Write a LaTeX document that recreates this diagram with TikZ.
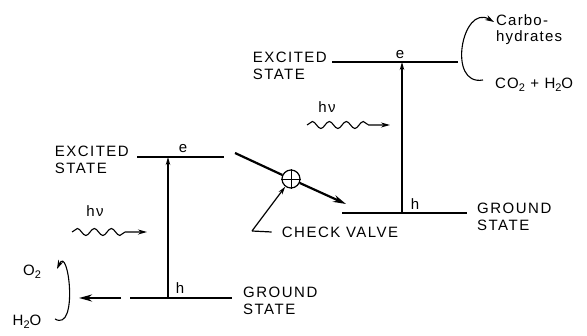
\documentclass[tikz,border=0pt]{standalone}
\usepackage{fontspec}
\setmainfont{Liberation Sans}
\newfontfamily\capsfont[LetterSpace=10]{Liberation Sans}
\newfontfamily\lowfont[LetterSpace=8]{Liberation Sans}
\usetikzlibrary{arrows.meta, positioning, decorations.pathmorphing}
\newcommand{\chemsub}[1]{\raisebox{-0.4ex}{\fontsize{11}{12}\selectfont #1}}
\tikzset{
  level/.style={line width=1.2pt},
  excite/.style={line width=1.2pt, -{Stealth[length=8pt,width=4.5pt]}},
  transfer/.style={line width=2.2pt, -{Stealth[length=13pt,width=7pt]}},
  photon/.style={
    line width=1.1pt, decorate,
    decoration={snake, amplitude=3.5pt, segment length=17pt, post length=18pt},
    -{Stealth[length=9pt,width=5pt]}
  },
  statelbl/.style={font=\capsfont\fontsize{15}{17}\selectfont, align=left, inner sep=1pt},
  small/.style={font=\lowfont\fontsize{15}{16}\selectfont, align=left, inner sep=1pt},
  cycle/.style={line width=1.1pt, -{Stealth[length=9pt,width=5.5pt]}},
  valve/.style={circle, draw, line width=1.2pt, fill=white, minimum size=18pt, inner sep=0pt},
}

\begin{document}
\begin{tikzpicture}[x=1pt, y=-1pt]
  \useasboundingbox (0,0) rectangle (587,336);

  % left system
  \coordinate (exA-w) at (137,157);
  \coordinate (exA-e) at (224,157);
  \coordinate (exA-x) at (168,157);
  \coordinate (gnA-w) at (130,298);
  \coordinate (gnA-e) at (232,298);
  \coordinate (gnA-x) at (168,298);
  \coordinate (outA-s) at (121,298);
  \coordinate (outA-t) at (79,298);
  \coordinate (phA-s) at (72,232);
  \coordinate (phA-t) at (147,232);
  \coordinate (cycA-s) at (55,319);
  \coordinate (cycA-t) at (57,269);

  \node (exA-lbl) [statelbl, left=7pt of exA-w, yshift=-3pt] {EXCITED\\STATE};
  \node (gnA-lbl) [statelbl, right=10pt of gnA-e, yshift=-3pt] {GROUND\\STATE};
  \node (eA)  [small] at (183,149) {e};
  \node (hA)  [small] at (180,288) {h};
  \node (hvA) [small] at (95,211) {hν};
  \node (o2)  [small] at (32,272) {O\chemsub{2}};
  \node (h2o) [small] at (27,322) {H\chemsub{2}O};

  \draw [level]    (exA-w) -- (exA-e);
  \draw [level]    (gnA-w) -- (gnA-e);
  \draw [excite]   (gnA-x) -- (exA-x);
  \draw [photon]   (phA-s) -- (phA-t);
  \draw [transfer] (outA-s) -- (outA-t);
  \draw [cycle]    (cycA-s) to[out=-30, in=65, looseness=1.4] (cycA-t);

  % check valve
  \coordinate (cvIn) at (235,153);
  \coordinate (cvOut) at (346,204);
  \coordinate (cvCorner) at (252,231);
  \node (cv) [valve] at (291,179) {};
  \node (cvLbl) [statelbl] at (340,232) {CHECK VALVE};

  \draw [line width=2.2pt] (cvIn) -- (cv);
  \draw [transfer] (cv) -- (cvOut);
  \draw [line width=0.9pt] (cv.north) -- (cv.south) (cv.west) -- (cv.east);
  \draw [level] ([xshift=-9pt]cvLbl.west) -- (cvCorner);
  \draw [excite] (cvCorner) -- (cv);

  % right system
  \coordinate (exB-w) at (332,62);
  \coordinate (exB-e) at (458,62);
  \coordinate (exB-x) at (402,62);
  \coordinate (gnB-w) at (342,213);
  \coordinate (gnB-e) at (467,213);
  \coordinate (gnB-x) at (402,213);
  \coordinate (phB-s) at (307,125);
  \coordinate (phB-t) at (390,125);
  \coordinate (cycB-s) at (483,80);
  \coordinate (cycB-t) at (494,22);

  \node (exB-lbl) [statelbl, left=4pt of exB-w, yshift=-4pt] {EXCITED\\STATE};
  \node (gnB-lbl) [statelbl, right=9pt of gnB-e, yshift=-4pt] {GROUND\\STATE};
  \node (eB)   [small] at (400,55) {e};
  \node (hB)   [small] at (415,204) {h};
  \node (hvB)  [small] at (327,107) {hν};
  \node (carb) [small, anchor=west] at (495,30) {Carbo-\\hydrates};
  \node (co2)  [small, anchor=west] at (494,85) {CO\chemsub{2} + H\chemsub{2}O};

  \draw [level]  (exB-w) -- (exB-e);
  \draw [level]  (gnB-w) -- (gnB-e);
  \draw [excite] (gnB-x) -- (exB-x);
  \draw [photon] (phB-s) -- (phB-t);
  \draw [cycle]  (cycB-s) to[out=-170, in=150, looseness=1.6] (cycB-t);
\end{tikzpicture}
\end{document}
